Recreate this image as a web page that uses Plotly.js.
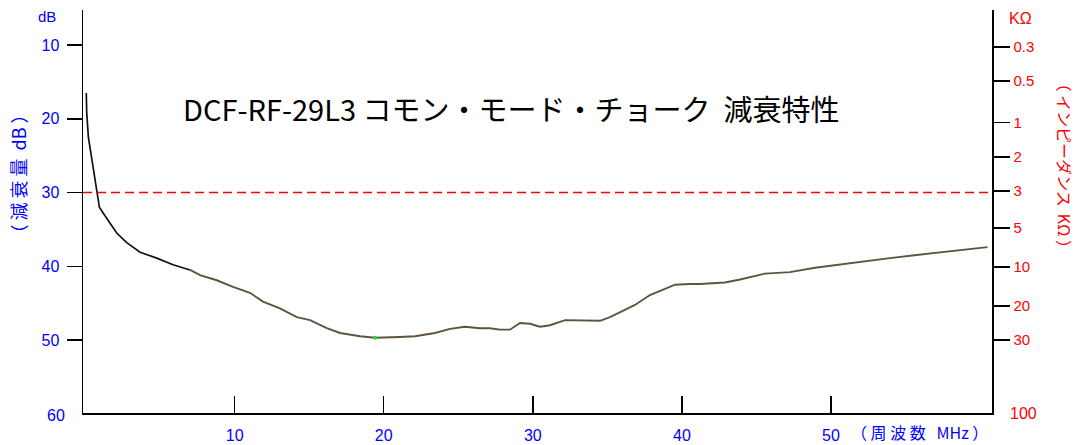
<!DOCTYPE html>
<html>
<head>
<meta charset="utf-8">
<script src="https://cdn.plot.ly/plotly-3.0.1.min.js"></script>
<style>html,body{margin:0;padding:0;background:#fff;}#chart{width:1082px;height:445px;}</style>
</head>
<body>
<div id="chart"></div>
<script>
// Frequency (MHz) and attenuation (dB)
const freqLow = [0.05, 0.08, 0.19, 0.42, 0.64, 0.79, 0.93, 1.19, 1.64, 2.09, 2.76, 3.66, 4.78, 5.87, 7.01];
const attLow  = [16.5, 19.2, 22.5, 25.6, 28.3, 29.9, 32.0, 32.8, 34.1, 35.5, 36.8, 38.1, 38.9, 39.8, 40.5];

const freqHigh = [7.01, 7.68, 8.80, 9.89, 11.03, 11.90, 13.04, 14.17, 15.06, 16.18, 17.07, 17.74, 18.41, 19.42, 20.42,
  21.09, 22.10, 23.44, 24.45, 25.45, 26.46, 27.13, 27.80, 28.47, 29.14, 29.81, 30.48, 31.15, 32.16, 33.16,
  34.51, 35.18, 35.85, 36.85, 37.86, 38.86, 39.54, 40.54, 41.21, 42.89, 43.90, 45.57, 47.25, 48.93, 50.60,
  52.30, 53.95, 55.60, 57.30, 58.98, 60.50];
const attHigh = [40.5, 41.2, 41.9, 42.8, 43.6, 44.8, 45.7, 46.9, 47.3, 48.4, 49.05, 49.3, 49.5, 49.7, 49.7,
  49.6, 49.5, 49.05, 48.5, 48.2, 48.4, 48.4, 48.6, 48.6, 47.7, 47.8, 48.2, 48.0, 47.3, 47.3,
  47.4, 46.9, 46.2, 45.25, 43.9, 43.1, 42.5, 42.4, 42.4, 42.2, 41.8, 41.0, 40.8, 40.2, 39.8,
  39.3, 38.9, 38.5, 38.1, 37.8, 37.4];

const markerFreq = [19.42];
const markerAtt = [49.7];

const refLevelDb = 30;

const xTickVals = [10, 20, 30, 40, 50];
const xTickText = ['10', '20', '30', '40', '50'];
const yTickVals = [10, 20, 30, 40, 50];
const yTickText = ['10', '20', '30', '40', '50'];
// Impedance scale (kΩ) on the right, positioned on the dB scale
const zTickDb   = [10.3, 14.9, 20.5, 25.2, 29.8, 34.8, 40.1, 45.4, 50.0];
const zTickText = ['0.3', '0.5', '1', '2', '3', '5', '10', '20', '30'];

const BLUE = '#0000ff';
const RED = '#ff0000';
const numFont = {family: 'Liberation Sans, Arial, sans-serif', size: 16};
const jpFont = 'Noto Sans CJK JP, sans-serif';

const traces = [
  {x: freqLow, y: attLow, type: 'scatter', mode: 'lines',
   line: {color: '#111111', width: 1.7}, hoverinfo: 'skip', showlegend: false},
  {x: freqHigh, y: attHigh, type: 'scatter', mode: 'lines',
   line: {color: '#5f5440', width: 1.9}, hoverinfo: 'skip', showlegend: false},
  {x: markerFreq, y: markerAtt, type: 'scatter', mode: 'markers',
   marker: {color: '#22dd22', size: 4}, hoverinfo: 'skip', showlegend: false},
  {x: [], y: [], yaxis: 'y2', type: 'scatter', showlegend: false}
];

const layout = {
  width: 1082, height: 445,
  margin: {l: 83, r: 90, t: 10, b: 32},
  paper_bgcolor: '#ffffff', plot_bgcolor: '#ffffff',
  showlegend: false,
  xaxis: {
    range: [-0.17, 60.8], showgrid: false, zeroline: false,
    showline: true, linecolor: '#000', linewidth: 1.5,
    ticks: 'inside', ticklen: 17, tickwidth: 1.5, tickcolor: '#000',
    tickvals: xTickVals, ticktext: xTickText,
    tickfont: Object.assign({color: BLUE}, numFont),
    ticklabelstandoff: 7
  },
  yaxis: {
    range: [59.9, 5.25], showgrid: false, zeroline: false,
    showline: true, linecolor: '#000', linewidth: 1.5,
    ticks: 'outside', ticklen: 15, tickwidth: 1.5, tickcolor: '#000',
    tickvals: yTickVals, ticktext: yTickText,
    tickfont: Object.assign({color: BLUE}, numFont),
    ticklabelstandoff: 4
  },
  yaxis2: {
    overlaying: 'y', side: 'right',
    range: [59.9, 5.25], showgrid: false, zeroline: false,
    showline: true, linecolor: '#000', linewidth: 1.5,
    ticks: 'outside', ticklen: 16, tickwidth: 1.5, tickcolor: '#000',
    tickvals: zTickDb, ticktext: zTickText,
    tickfont: {family: 'Liberation Sans, Arial, sans-serif', size: 15, color: RED},
    ticklabelstandoff: 1
  },
  shapes: [
    {type: 'line', xref: 'paper', yref: 'y', x0: 0, x1: 1, y0: refLevelDb, y1: refLevelDb,
     line: {color: RED, width: 1.6, dash: '9px,5px'}}
  ],
  annotations: [
    {text: 'DCF-RF-29L3 コモン・モード・チョーク  減衰特性', xref: 'paper', yref: 'paper',
     x: 0.471, y: 0.757, xanchor: 'center', yanchor: 'middle', showarrow: false,
     font: {family: jpFont, size: 29, color: '#000'}},
    {text: 'dB', xref: 'paper', yref: 'paper', x: -0.0396, y: 0.983,
     xanchor: 'center', yanchor: 'middle', showarrow: false,
     font: {family: 'Liberation Sans, Arial, sans-serif', size: 15, color: BLUE}},
    {text: '60', xref: 'paper', yref: 'paper', x: -0.0297, y: -0.005,
     xanchor: 'center', yanchor: 'middle', showarrow: false,
     font: Object.assign({color: BLUE}, numFont)},
    {text: 'KΩ', xref: 'paper', yref: 'paper', x: 1.031, y: 0.98,
     xanchor: 'center', yanchor: 'middle', showarrow: false,
     font: {family: 'Liberation Sans, Arial, sans-serif', size: 16, color: RED}},
    {text: '100', xref: 'paper', yref: 'paper', x: 1.035, y: 0.0,
     xanchor: 'center', yanchor: 'middle', showarrow: false,
     font: {family: 'Liberation Sans, Arial, sans-serif', size: 16, color: RED}},
    {text: '（ 減 衰 量  dB ）', xref: 'paper', yref: 'paper', x: -0.072, y: 0.593,
     xanchor: 'center', yanchor: 'middle', textangle: -90, showarrow: false,
     font: {family: jpFont, size: 18, color: BLUE}},
    {text: '（ インピーダンス  KΩ ）', xref: 'paper', yref: 'paper', x: 1.080, y: 0.615,
     xanchor: 'center', yanchor: 'middle', textangle: 90, showarrow: false,
     font: {family: jpFont, size: 16, color: RED}},
    {text: '（ 周 波 数   MHz ）', xref: 'paper', yref: 'paper', x: 0.843, y: -0.048,
     xanchor: 'left', yanchor: 'middle', showarrow: false,
     font: {family: jpFont, size: 16, color: BLUE}}
  ]
};

Plotly.newPlot('chart', traces, layout, {staticPlot: true, displayModeBar: false});
</script>
</body>
</html>
